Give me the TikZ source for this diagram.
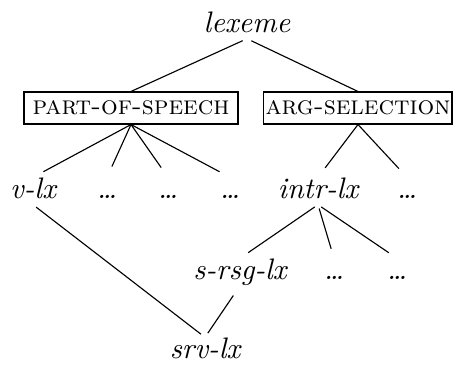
\documentclass[tikz,border=0pt]{standalone}
\usepackage{tikz}
\tikzset{
  cat/.style={font=\fontsize{10.5}{12}\selectfont\itshape, inner sep=0pt, text height=7.3pt, text depth=2pt},
  typebox/.style={draw, thin, font=\fontsize{9.3}{11}\selectfont\scshape, inner sep=0pt, minimum width=#1, minimum height=11.3pt},
  br/.style={thin, shorten <=0pt, shorten >=0pt}
}
\begin{document}
\begin{tikzpicture}[x=0.354pt,y=-0.354pt]
		\useasboundingbox (0,0) rectangle (457,364);
		% top
		\node[cat] (lexeme) at (247,25) {lexeme};
		\node[typebox=75.8pt] (pos) at (131,108) {part-of-speech};
		\node[typebox=66.6pt] (argsel) at (358,108) {arg-selection};
		% second row
		\node[cat] (vlx) at (33,191) {v-lx};
		\node[cat] (posa) at (107,191) {\ldots};
		\node[cat] (posb) at (168,191) {\ldots};
		\node[cat] (posc) at (230,191) {\ldots};
		\node[cat] (intrlx) at (318,191) {intr-lx};
		\node[cat] (arga) at (407,191) {\ldots};
		% third row
		\node[cat] (srsglx) at (240,272) {s-rsg-lx};
		\node[cat] (intra) at (334,272) {\ldots};
		\node[cat] (intrb) at (397,272) {\ldots};
		\node[cat] (srvlx) at (205,351) {srv-lx};
		% lines
		\draw[br,shorten <=1.7pt] (lexeme.south) -- (pos.north);
		\draw[br,shorten <=1.7pt] (lexeme.south) -- (argsel.north);
		\foreach \c in {vlx,posa,posb,posc}
			\draw[br,shorten >=4.2pt] (pos.south) -- (\c.north);
		\foreach \c in {intrlx,arga}
			\draw[br,shorten >=4.2pt] (argsel.south) -- (\c.north);
		\foreach \c in {srsglx,intra,intrb}
			\draw[br,shorten <=1.4pt,shorten >=3.5pt] (intrlx.south) -- (\c.north);
		\draw[br,shorten <=1.4pt,shorten >=1.8pt] (vlx.south) -- (srvlx.north);
		\draw[br,shorten <=4.2pt,shorten >=1.8pt] (srsglx.south) -- (srvlx.north);
\end{tikzpicture}
\end{document}
